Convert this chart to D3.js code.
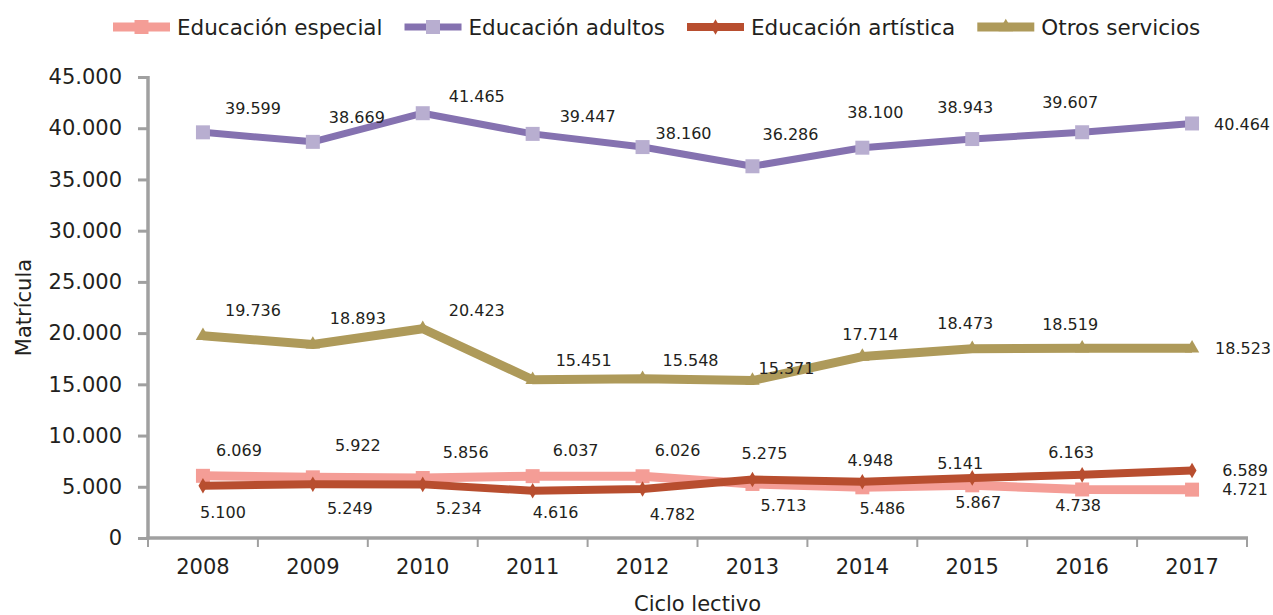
<!DOCTYPE html>
<html>
<head>
<meta charset="utf-8">
<script src="https://cdn.jsdelivr.net/npm/d3@7"></script>
<style>
  body { margin: 0; background: #fff; }
  svg { display: block; }
  text { font-family: "DejaVu Sans", Verdana, sans-serif; fill: #231f20; }
</style>
</head>
<body>
<svg id="chart" width="1273" height="615"></svg>
<script>
// data
var years = ["2008", "2009", "2010", "2011", "2012", "2013", "2014", "2015", "2016", "2017"];
var especial  = [6069, 5922, 5856, 6037, 6026, 5275, 4948, 5141, 4738, 4721];
var adultos   = [39599, 38669, 41465, 39447, 38160, 36286, 38100, 38943, 39607, 40464];
var artistica = [5100, 5249, 5234, 4616, 4782, 5713, 5486, 5867, 6163, 6589];
var otros     = [19736, 18893, 20423, 15451, 15548, 15371, 17714, 18473, 18519, 18523];
var yTicks = [0, 5000, 10000, 15000, 20000, 25000, 30000, 35000, 40000, 45000];

// label nudges (px, relative to the point) - the labels were hand placed in the original
var nudgeEspecial  = [[36,-26],[45,-32],[43,-26],[43,-26],[35,-26],[12,-31],[8,-27],[-12,-22],[-4,16],[53,0]];
var nudgeAdultos   = [[50,-24],[44,-25],[54,-17],[55,-18],[41,-14],[38,-32],[13,-35],[-7,-32],[-12,-30],[50,1]];
var nudgeArtistica = [[20,26],[37,24],[36,24],[23,22],[30,25],[31,26],[20,26],[6,24],[-11,-23],[53,0]];
var nudgeOtros     = [[50,-26],[45,-26],[54,-19],[51,-19],[48,-18],[34,-12],[8,-22],[-7,-26],[-12,-24],[51,0]];

var series = [
    { name: "Educación especial", values: especial, nudge: nudgeEspecial,
      line: "#f49d96", marker: "#f49d96", width: 9, symbol: d3.symbolSquare, size: 196 },
    { name: "Educación adultos", values: adultos, nudge: nudgeAdultos,
      line: "#8572b0", marker: "#b8aed0", width: 7, symbol: d3.symbolSquare, size: 196 },
    { name: "Educación artística", values: artistica, nudge: nudgeArtistica,
      line: "#b84e2f", marker: "#b84e2f", width: 8, symbol: d3.symbolDiamond, size: 70 },
    { name: "Otros servicios", values: otros, nudge: nudgeOtros,
      line: "#ae9a5a", marker: "#ae9a5a", width: 9, symbol: d3.symbolTriangle, size: 90 }
];

var MARGINS = { left: 148, right: 26, top: 77, bottom: 77 };
var WIDTH = 1273, HEIGHT = 615;

var svg = d3.select("#chart");

var locale = d3.formatLocale({ decimal: ",", thousands: ".", grouping: [3], currency: ["", ""] });
var fmt = locale.format(",d");

var xRange = d3.scaleBand().domain(years).range([MARGINS.left, WIDTH - MARGINS.right]);
var yRange = d3.scaleLinear().domain([0, 45000]).range([HEIGHT - MARGINS.bottom, MARGINS.top]);
var xc = function (i) { return xRange(years[i]) + xRange.bandwidth() / 2; };

var axisColor = "#a0a0a0";

/**
 * y axis
 */
var yAxis = d3.axisLeft(yRange).tickValues(yTicks).tickFormat(fmt).tickSize(10).tickPadding(16);
var y2 = svg.append("g")
    .attr("transform", "translate(" + MARGINS.left + ",0)")
    .call(yAxis);
y2.select(".domain").remove();
y2.selectAll(".tick line").attr("stroke", axisColor).attr("stroke-width", 3);
y2.selectAll(".tick text").style("font-size", "21px").attr("fill", "#231f20");

/**
 * x axis: labels at the centres, ticks between categories
 */
var xAxis = d3.axisBottom(xRange).tickSize(0).tickPadding(21);
var x2 = svg.append("g")
    .attr("transform", "translate(0," + (HEIGHT - MARGINS.bottom) + ")")
    .call(xAxis);
x2.select(".domain").remove();
x2.selectAll(".tick text").style("font-size", "21px").attr("fill", "#231f20");

var bounds = years.map(function (d) { return xRange(d); }).concat([xRange.range()[1]]);
svg.append("g").selectAll("line").data(bounds).join("line")
    .attr("x1", function (d) { return d; })
    .attr("x2", function (d) { return d; })
    .attr("y1", yRange(0))
    .attr("y2", yRange(0) + 9)
    .attr("stroke", axisColor).attr("stroke-width", 2);

svg.append("line")
    .attr("x1", MARGINS.left).attr("x2", MARGINS.left)
    .attr("y1", yRange(45000) - 1).attr("y2", yRange(0) + 1.5)
    .attr("stroke", axisColor).attr("stroke-width", 3.5);
svg.append("line")
    .attr("x1", MARGINS.left - 1.5).attr("x2", xRange.range()[1] + 1)
    .attr("y1", yRange(0)).attr("y2", yRange(0))
    .attr("stroke", axisColor).attr("stroke-width", 3.5);

svg.append("text")
    .attr("text-anchor", "middle")
    .attr("transform", "translate(31," + ((yRange(0) + yRange(45000)) / 2) + ") rotate(-90)")
    .style("font-size", "21px")
    .text("Matrícula");

svg.append("text")
    .attr("text-anchor", "middle")
    .attr("x", (xRange.range()[0] + xRange.range()[1]) / 2)
    .attr("y", 611)
    .style("font-size", "21px")
    .text("Ciclo lectivo");

/**
 * lines, markers and data labels
 */
var lineFunc = d3.line()
    .x(function (d, i) { return xc(i); })
    .y(function (d) { return yRange(d); });

var order = [1, 3, 0, 2];
order.forEach(function (k) {
    var s = series[k];
    svg.append("path")
        .attr("d", lineFunc(s.values))
        .attr("fill", "none")
        .attr("stroke", s.line)
        .attr("stroke-width", s.width)
        .attr("stroke-linejoin", "round");
    svg.append("g").selectAll("path").data(s.values).join("path")
        .attr("d", d3.symbol().type(s.symbol).size(s.size))
        .attr("transform", function (d, i) { return "translate(" + xc(i) + "," + yRange(d) + ")"; })
        .attr("fill", s.marker);
});

series.forEach(function (s) {
    svg.append("g").selectAll("text").data(s.values).join("text")
        .attr("text-anchor", "middle")
        .attr("x", function (d, i) { return xc(i) + s.nudge[i][0]; })
        .attr("y", function (d, i) { return yRange(d) + s.nudge[i][1]; })
        .attr("dy", "0.36em")
        .style("font-size", "16px")
        .text(function (d) { return fmt(d); });
});

/**
 * legend
 */
var legend = svg.append("g");
var lx = 113, ly = 27;
series.forEach(function (s) {
    var g = legend.append("g").attr("transform", "translate(" + lx + "," + ly + ")");
    g.append("line").attr("x1", 0).attr("x2", 57).attr("y1", 0).attr("y2", 0)
        .attr("stroke", s.line).attr("stroke-width", s.width);
    g.append("path").attr("d", d3.symbol().type(s.symbol).size(s.size))
        .attr("transform", "translate(28.5,0)").attr("fill", s.marker);
    var t = g.append("text").attr("x", 64).attr("y", 0).attr("dy", "0.36em")
        .style("font-size", "21.5px").text(s.name);
    lx += 64 + t.node().getComputedTextLength() + 22;
});
</script>
</body>
</html>
